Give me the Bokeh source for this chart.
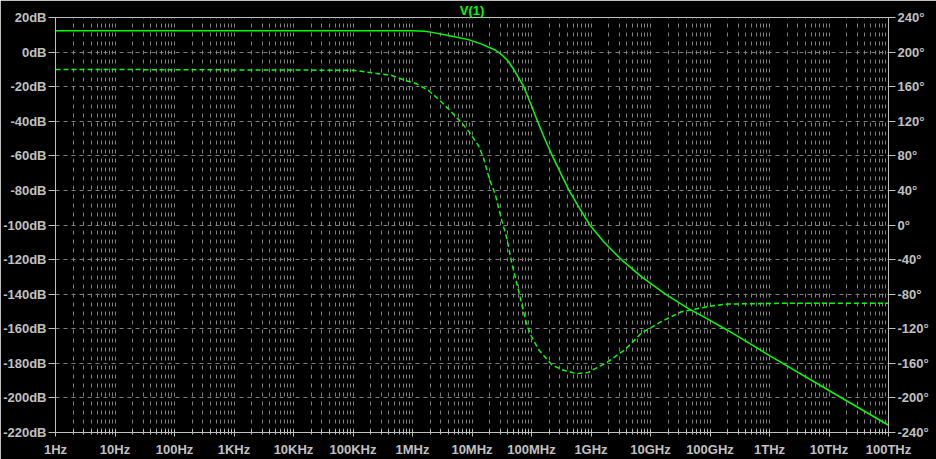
from bokeh.plotting import figure
from bokeh.models import Range1d, LinearAxis, FixedTicker, PrintfTickFormatter
from bokeh.embed import file_html
from bokeh.resources import INLINE

# ---- data ----
x_ticks = [1, 10, 100, 1000, 10**4, 10**5, 10**6, 10**7, 10**8, 10**9,
           10**10, 10**11, 10**12, 10**13, 10**14]
x_tick_labels = ["1Hz", "10Hz", "100Hz", "1KHz", "10KHz", "100KHz", "1MHz",
                 "10MHz", "100MHz", "1GHz", "10GHz", "100GHz", "1THz",
                 "10THz", "100THz"]
db_ticks = [20, 0, -20, -40, -60, -80, -100, -120, -140, -160, -180, -200, -220]
deg_ticks = [240, 200, 160, 120, 80, 40, 0, -40, -80, -120, -160, -200, -240]

freq_mag = [1, 1e6, 1.58e6, 2.14e6, 3.98e6, 8.71e6, 1.45e7, 2.45e7, 3.16e7,
            4.07e7, 5.25e7, 7.41e7, 1e8, 1.26e8, 1.66e8, 2.24e8, 3.09e8,
            4.27e8, 6.31e8, 9.55e8, 1.66e9, 3.24e9, 7.08e9, 1.78e10,
            4.27e10, 8.71e10, 2.0e11, 1e12, 1e13, 1e14]
mag_db = [12.3, 12.3, 12.0, 11.4, 9.6, 7.2, 4.6, 1.2, -1.5,
          -5.3, -11.1, -20.0, -31.0, -40.0, -50.0, -60.0, -70.0,
          -80.0, -90.0, -100.0, -110.0, -120.0, -130.0, -140.0,
          -148.2, -154.0, -161.0, -175.5, -195.7, -215.8]

freq_ph = [1, 1e5, 2.09e5, 4.47e5, 7.59e5, 1.17e6, 1.86e6, 2.75e6, 4.07e6,
           5.89e6, 8.71e6, 1.29e7, 1.55e7, 2.0e7, 2.45e7, 3.16e7, 3.8e7,
           4.68e7, 6.03e7, 8.32e7, 1e8, 1.32e8, 2.19e8, 3.24e8, 5.75e8,
           8.91e8, 1.82e9, 3.72e9, 7.08e9, 1.51e10, 3.31e10, 1.05e11,
           2.0e11, 1.58e12, 1e14]
phase_deg = [180, 179, 176, 173, 167.2, 163.3, 155.6, 145.3, 133.8,
             122.3, 108.8, 91.6, 78, 51.3, 36, 5.3, -14,
             -44.6, -75.3, -115.6, -129, -144.3, -161.6, -167.4, -172,
             -170.5, -159.3, -144.3, -124.8, -111.8, -100.3, -93.7,
             -91.4, -90.6, -90.5]

GREEN = "#00ff00"
FG = "#c0c0c0"
GRID = "#808080"
FONT = "Liberation Sans"

p = figure(width=936, height=459, x_axis_type="log",
           x_range=Range1d(1, 1e14), y_range=Range1d(-220, 20),
           output_backend="svg", toolbar_location=None,
           background_fill_color="black", border_fill_color="black",
           min_border_left=53, min_border_right=48,
           min_border_top=16, min_border_bottom=26,
           title="V(1)")
p.extra_y_ranges = {"phase": Range1d(-240, 240)}
p.outline_line_color = FG

# title
p.title.align = "center"
p.title.text_color = GREEN
p.title.text_font = FONT
p.title.text_font_size = "13px"
p.title.text_font_style = "bold"
p.title.standoff = 0
p.title.offset = 0

# x axis
minor = [m * d for d in x_ticks[:-1] for m in range(2, 10)]
xa = p.xaxis[0]
xa.ticker = FixedTicker(ticks=x_ticks, minor_ticks=minor)
xa.major_label_overrides = {t: l for t, l in zip(x_ticks, x_tick_labels)}
xa.axis_line_color = FG
xa.major_tick_line_color = FG
xa.minor_tick_line_color = FG
xa.major_tick_in = 3
xa.major_tick_out = 4
xa.minor_tick_in = 3
xa.minor_tick_out = 2
xa.major_label_standoff = 5
xa.major_label_text_color = FG
xa.major_label_text_font = FONT
xa.major_label_text_font_size = "13px"
xa.major_label_text_font_style = "bold"

# left axis
ya = p.yaxis[0]
ya.ticker = FixedTicker(ticks=db_ticks)
ya.formatter = PrintfTickFormatter(format="%ddB")

# right axis
ra = LinearAxis(y_range_name="phase", ticker=FixedTicker(ticks=deg_ticks),
                formatter=PrintfTickFormatter(format="%d°"))
p.add_layout(ra, "right")

for ax in (ya, ra):
    ax.axis_line_color = FG
    ax.major_tick_line_color = FG
    ax.minor_tick_line_color = None
    ax.major_tick_in = 0
    ax.major_tick_out = 7
    ax.major_label_standoff = 2
    ax.major_label_text_color = FG
    ax.major_label_text_font = FONT
    ax.major_label_text_font_size = "13px"
    ax.major_label_text_font_style = "bold"

# grids
p.xgrid.grid_line_color = GRID
p.xgrid.grid_line_dash = "4 5"
p.xgrid.minor_grid_line_color = GRID
p.xgrid.minor_grid_line_dash = "4 5"
p.ygrid.grid_line_color = GRID
p.ygrid.grid_line_dash = "4 4"

# traces
p.line(freq_mag, mag_db, line_color=GREEN, line_width=1.5)
p.line(freq_ph, phase_deg, y_range_name="phase", line_color=GREEN,
       line_width=1.5, line_dash="5 3")

open("out.html", "w").write(file_html(p, INLINE))
